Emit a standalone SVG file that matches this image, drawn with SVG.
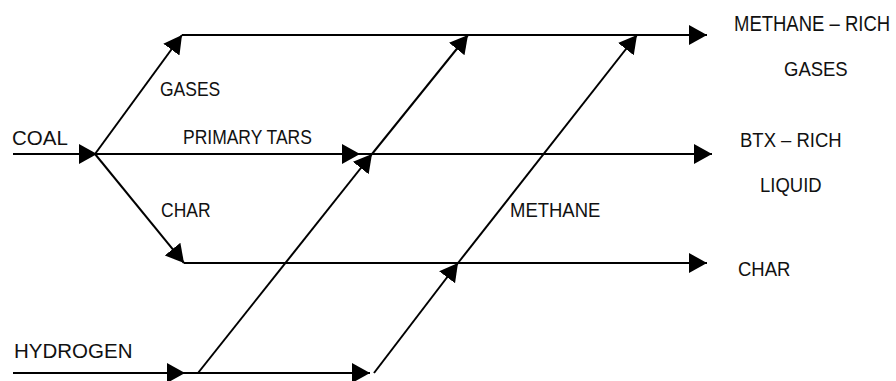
<svg xmlns="http://www.w3.org/2000/svg" width="896" height="381" viewBox="0 0 896 381">
<defs>
<marker id="ah" markerUnits="userSpaceOnUse" markerWidth="20" markerHeight="22" refX="18" refY="10" orient="auto">
<path d="M0,0 L18,10 L0,20 Z" fill="#000"/>
</marker>
<style>
.ln{stroke:#000;stroke-width:2;fill:none;marker-end:url(#ah)}
text{font-family:"Liberation Sans",Arial,sans-serif;fill:#111}
.s{font-size:17.5px}
.m{font-size:18.5px}
.b{font-size:20.5px}
</style>
</defs>
<rect width="896" height="381" fill="#fff"/>
<g id="connectors">
<line class="ln" x1="13" y1="154" x2="97" y2="154"/>
<line class="ln" x1="95" y1="154" x2="182" y2="35"/>
<line class="ln" x1="95" y1="154" x2="184" y2="263"/>
<line class="ln" x1="182" y1="35" x2="707" y2="35"/>
<line class="ln" x1="97" y1="154" x2="360" y2="154"/>
<line class="ln" x1="360" y1="154" x2="712" y2="154"/>
<line class="ln" x1="184" y1="263" x2="707" y2="263"/>
<line class="ln" x1="13" y1="373" x2="185" y2="373"/>
<line class="ln" x1="185" y1="373" x2="370" y2="373"/>
<line class="ln" x1="198" y1="373" x2="372" y2="154"/>
<line class="ln" x1="372" y1="154" x2="468" y2="35"/>
<line class="ln" x1="374" y1="373" x2="458" y2="263"/>
<line class="ln" x1="458" y1="263" x2="637" y2="35"/>
</g>
<g id="coal"><text class="b" x="12" y="145">COAL</text></g>
<g id="hydrogen"><text class="b" x="14" y="358">HYDROGEN</text></g>
<g id="gases-label"><text class="s" transform="translate(160,96) scale(1,1.2)">GASES</text></g>
<g id="primary-tars-label"><text class="s" transform="translate(183,144) scale(1,1.2)">PRIMARY TARS</text></g>
<g id="char-label"><text class="s" transform="translate(161,217) scale(1,1.15)">CHAR</text></g>
<g id="methane-label"><text class="m" transform="translate(510,217) scale(1,1.05)">METHANE</text></g>
<g id="methane-rich-gases">
<text class="m" transform="translate(734,31) scale(1,1.15)">METHANE – RICH</text>
<text class="m" transform="translate(784,76) scale(1,1.05)">GASES</text>
</g>
<g id="btx-rich-liquid">
<text class="m" transform="translate(740,147) scale(1,1.1)">BTX – RICH</text>
<text class="m" transform="translate(760,192) scale(1,1.1)">LIQUID</text>
</g>
<g id="char-out"><text class="m" transform="translate(738,276) scale(1,1.1)">CHAR</text></g>
</svg>
